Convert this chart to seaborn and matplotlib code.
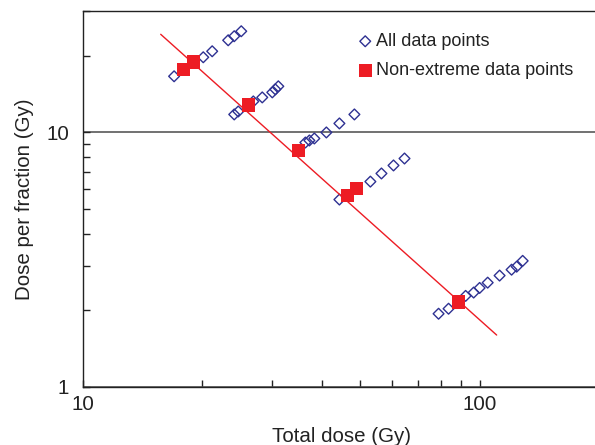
import numpy as np
import pandas as pd
import matplotlib
matplotlib.use("Agg")
import matplotlib.pyplot as plt
from matplotlib.ticker import NullFormatter, FixedLocator, FixedFormatter, LogLocator
import seaborn as sns

# ---- data ----
all_total = [16.97, 17.9, 18.97, 20.1, 21.17, 23.23, 24.06, 25.06,
             24.06, 24.63, 26.1, 26.88, 28.31, 30.01, 30.54, 31.08,
             34.9, 36.37, 37.22, 38.31, 41.08, 44.31, 48.34,
             44.31, 46.4, 48.9, 53.04, 56.56, 60.66, 64.66,
             78.8, 83.5, 88.5, 92.2, 96.6, 100.0, 104.8, 112.3, 120.4, 124.0, 128.4]
all_dpf = [16.62, 17.7, 18.9, 19.74, 20.84, 23.02, 23.88, 24.98,
           11.77, 12.09, 12.8, 13.24, 13.73, 14.37, 14.77, 15.18,
           8.5, 9.13, 9.30, 9.47, 10.0, 10.85, 11.77,
           5.45, 5.65, 6.02, 6.41, 6.90, 7.42, 7.90,
           1.94, 2.03, 2.16, 2.28, 2.35, 2.45, 2.57, 2.74, 2.89, 2.97, 3.13]

nonext_total = [17.9, 18.97, 26.1, 34.9, 46.4, 48.9, 88.5]
nonext_dpf = [17.7, 18.9, 12.8, 8.5, 5.65, 6.02, 2.16]

fit_total = [15.7, 110.4]
fit_dpf = [24.3, 1.60]

x_ticks = [10, 100]
x_ticklabels = ["10", "100"]
y_ticks = [1, 10]
y_ticklabels = ["1", "10"]

BLUE = "#2E3192"
RED = "#ED1C24"

sns.set_style("ticks")
plt.rcParams["font.family"] = ["Liberation Sans", "DejaVu Sans"]

fig = plt.figure(figsize=(5.95, 4.45), dpi=100)
ax = fig.add_axes([83 / 595, 58 / 445, 516 / 595, 376 / 445])

df_all = pd.DataFrame({"total": all_total, "dpf": all_dpf})
df_ne = pd.DataFrame({"total": nonext_total, "dpf": nonext_dpf})
df_fit = pd.DataFrame({"total": fit_total, "dpf": fit_dpf})

sns.scatterplot(data=df_all, x="total", y="dpf", ax=ax, marker="D", s=30,
                facecolors="none", edgecolors=BLUE, linewidths=1.0,
                label="All data points", zorder=3)
sns.lineplot(data=df_fit, x="total", y="dpf", ax=ax, color=RED, linewidth=1.0,
             estimator=None, sort=False, zorder=4, legend=False)
sns.scatterplot(data=df_ne, x="total", y="dpf", ax=ax, marker="s", s=92,
                color=RED, edgecolor="none", linewidth=0,
                label="Non-extreme data points", zorder=5)

ax.set_xscale("log")
ax.set_yscale("log")
ax.set_xlim(10, 200)
ax.set_ylim(1, 30)

ax.xaxis.set_major_locator(FixedLocator(x_ticks))
ax.xaxis.set_major_formatter(FixedFormatter(x_ticklabels))
ax.yaxis.set_major_locator(FixedLocator(y_ticks))
ax.yaxis.set_major_formatter(FixedFormatter(y_ticklabels))
ax.xaxis.set_minor_locator(LogLocator(base=10, subs=np.arange(2, 10)))
ax.yaxis.set_minor_locator(LogLocator(base=10, subs=np.arange(2, 10)))
ax.xaxis.set_minor_formatter(NullFormatter())
ax.yaxis.set_minor_formatter(NullFormatter())

ax.tick_params(which="both", direction="in", length=5, width=1.0, color="#222222",
               labelsize=14.8, labelcolor="#222222")
ax.tick_params(axis="y", which="both", pad=10)
ax.tick_params(axis="x", which="both", pad=6)

ax.yaxis.grid(True, which="major", color="#4a4a4a", linewidth=1.1)
ax.set_axisbelow(True)

for side in ["left", "bottom", "top", "right"]:
    ax.spines[side].set_visible(True)
    ax.spines[side].set_color("#222222")
    ax.spines[side].set_linewidth(1.0)

ax.set_xlabel("Total dose (Gy)", fontsize=14.8, color="#222222", labelpad=9)
ax.set_ylabel("Dose per fraction (Gy)", fontsize=14.8, color="#222222", labelpad=9)

handles, labels = ax.get_legend_handles_labels()
leg = ax.legend(handles, labels, loc="upper left",
                bbox_to_anchor=(358 / 595, 1 - 33 / 445), bbox_transform=fig.transFigure,
                frameon=False, fontsize=13, handlelength=0.8, handletextpad=0.2,
                labelspacing=0.68, borderpad=0, borderaxespad=0)
for t in leg.get_texts():
    t.set_color("#222222")

fig.savefig("out.png", dpi=100)
